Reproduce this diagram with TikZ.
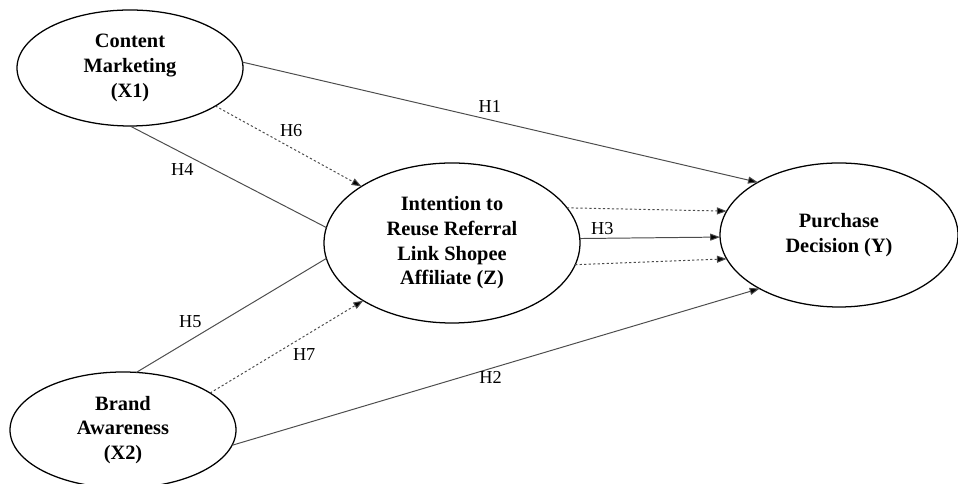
\documentclass[tikz,border=0pt]{standalone}
\usepackage{fontspec}
\setmainfont{Liberation Serif}
\usepackage{tikz}
\definecolor{edge-gray}{gray}{0.3}
\usetikzlibrary{shapes.geometric,arrows.meta}

\begin{document}
\begin{tikzpicture}[
	latent/.style={ellipse,draw,line width=0.9pt,inner sep=0pt,outer sep=0pt,align=center,font=\fontsize{14.5}{17.5}\selectfont\bfseries},
	direct/.style={draw=edge-gray,line width=0.7pt},
	indirect/.style={direct,dash pattern=on 1.6pt off 1.6pt},
	tip/.style={-{Triangle[length=7pt,width=5pt,fill=black]}},
	hyp/.style={font=\fontsize{13}{15}\selectfont,inner sep=2pt,text=black}]
	\useasboundingbox (0,0) rectangle (23.95,12.1);
	% latent variables
	\node[latent,minimum width=5.65cm,minimum height=2.9cm] (cm) at (3.25,10.4) {Content\\Marketing\\(X1)};
	\node[latent,minimum width=5.65cm,minimum height=2.9cm] (ba) at (3.075,1.35) {Brand\\Awareness\\(X2)};
	\node[latent,minimum width=6.4cm,minimum height=4cm] (iz) at (11.3,6.025) {Intention to\\Reuse Referral\\Link Shopee\\Affiliate (Z)};
	\node[latent,minimum width=5.95cm,minimum height=3.6cm] (pd) at (20.975,6.225) {Purchase\\Decision (Y)};
	% direct effects
	\draw[direct,tip] (cm.3) -- node[hyp,pos=0.48,above=3pt] {H1} (pd.147);
	\draw[direct,tip] (ba.-8) -- node[hyp,pos=0.49,below] {H2} (pd.214);
	\draw[direct,tip] (iz.2) -- node[hyp,pos=0.16,above] {H3} (pd.181);
	\draw[direct] (cm.south) -- node[hyp,pos=0.34,below left] {H4} (iz.173);
	\draw[direct] (ba.77) -- node[hyp,pos=0.36,above left] {H5} (iz.187);
	% mediation
	\draw[indirect,tip] (cm.-24) -- node[hyp,pos=0.42,above right] {H6} (iz.148);
	\draw[indirect,tip] (ba.23) -- node[hyp,pos=0.52,below right] {H7} (iz.213);
	\draw[indirect,tip] (iz.17) -- (pd.168);
	\draw[indirect,tip] (iz.-10) -- (pd.192);
\end{tikzpicture}
\end{document}
